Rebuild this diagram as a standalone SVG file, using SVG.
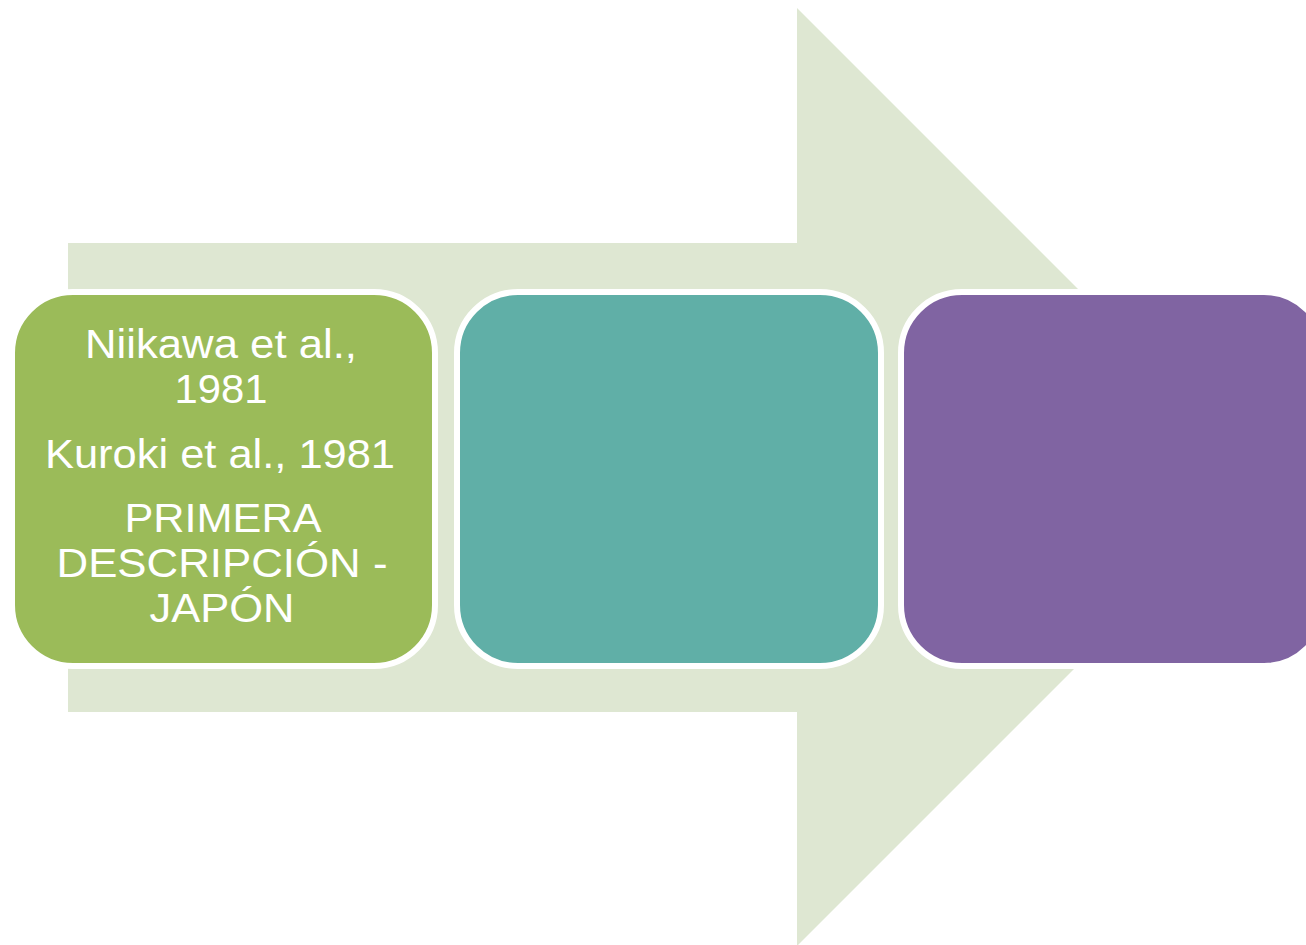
<svg xmlns="http://www.w3.org/2000/svg" width="1306" height="945" viewBox="0 0 1306 945">
  <style>
    .box { stroke: #ffffff; stroke-width: 6; }
    .label { font-family: "Liberation Sans", Arial, sans-serif; font-size: 40px; fill: #ffffff; text-anchor: middle; }
  </style>
  <rect width="1306" height="945" fill="#ffffff"/>
  <!-- background process arrow -->
  <g id="connectors">
    <polygon points="68,243 797,243 797,8 1266,477 797,946 797,712 68,712" fill="#dee7d2"/>
  </g>
  <g id="step1">
    <rect class="box" x="12" y="292" width="423" height="374" rx="61" ry="61" fill="#9bbb59"/>
    <text class="label" x="221" y="358" textLength="272" lengthAdjust="spacingAndGlyphs">Niikawa  et al.,</text>
    <text class="label" x="221" y="403" textLength="93" lengthAdjust="spacingAndGlyphs">1981</text>
    <text class="label" x="220" y="468" textLength="350" lengthAdjust="spacingAndGlyphs">Kuroki  et al., 1981</text>
    <text class="label" x="223" y="532" textLength="197" lengthAdjust="spacingAndGlyphs">PRIMERA</text>
    <text class="label" x="222" y="577" textLength="331" lengthAdjust="spacingAndGlyphs">DESCRIPCIÓN -</text>
    <text class="label" x="222" y="622" textLength="145" lengthAdjust="spacingAndGlyphs">JAPÓN</text>
  </g>
  <g id="step2">
    <rect class="box" x="457" y="292" width="424" height="374" rx="61" ry="61" fill="#60afa7"/>
  </g>
  <g id="step3">
    <rect class="box" x="901" y="292" width="424" height="374" rx="61" ry="61" fill="#8064a2"/>
  </g>
</svg>
